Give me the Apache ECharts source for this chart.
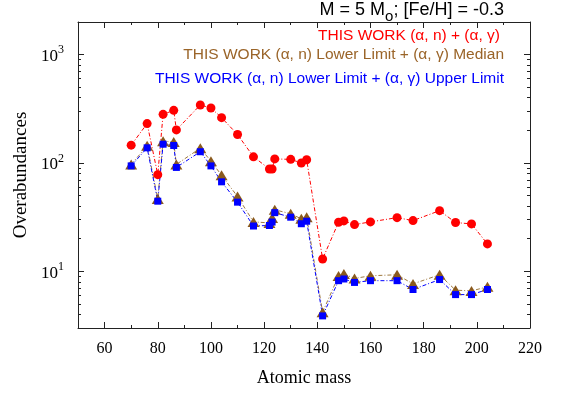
<!DOCTYPE html>
<html><head><meta charset="utf-8">
<script src="https://cdn.jsdelivr.net/npm/echarts@6/dist/echarts.min.js"></script>
<style>html,body{margin:0;padding:0;background:#fff}#c{width:561px;height:394px}</style>
</head><body><div id="c"></div>
<script>
const mass = [70,76,80,82,86,87,96,100,104,110,116,122,123,124,130,134,136,142,148,150,154,160,170,176,186,192,198,204];
const redVals = [146,231,78,281,306,202,343,322,262,183,114,88,88,109,108,100,107,13,28.4,29.2,27,28.6,31.3,29.4,36.3,28.2,27.4,17.9];
const brownVals = [97,144,46.6,159,156,97,137,104,77,49,28.6,28,31,37,34,30.5,31.6,4.2,9.07,9.46,8.6,9.1,9.3,7.66,9.3,6.7,6.6,7.2];
const blueVals = [94,138,44.4,149,145,91,127,94,67,43.5,26.2,26.5,28.5,34.8,31.6,27.5,29,3.88,8.2,8.5,7.9,8.2,8.2,6.8,8.4,6.1,6.1,6.8];
const xMajor = [60,80,100,120,140,160,180,200,220];
const xMinor = [50,70,90,110,130,150,170,190,210];
const yMajor = [10,100,1000];
const yMinor = [3,4,5,6,7,8,9,20,30,40,50,60,70,80,90,200,300,400,500,600,700,800,900,2000];
const seriesNames = ['THIS WORK (\u03b1, n) + (\u03b1, \u03b3)','THIS WORK (\u03b1, n) Lower Limit + (\u03b1, \u03b3) Median','THIS WORK (\u03b1, n) Lower Limit + (\u03b1, \u03b3) Upper Limit'];

const chart = echarts.init(document.getElementById('c'), null, {renderer:'canvas'});
const axisLineStyle = {show:true, lineStyle:{color:'#222', width:1}};
const serif = 'Liberation Serif';
function xa(pos, ticks, len, labels, line){
  const a = {type:'value', min:50, max:220, position:pos, splitLine:{show:false},
    axisLine: line ? axisLineStyle : {show:false},
    axisTick:{show:true, inside:true, length:len, customValues:ticks, lineStyle:{color:'#222',width:1}},
    axisLabel:{show:false}};
  if (labels){
    a.axisLabel = {show:true, customValues:ticks, fontFamily:serif, fontSize:16, color:'#000', margin:13};
    a.name = 'Atomic mass'; a.nameLocation='middle'; a.nameGap=41;
    a.nameTextStyle = {fontFamily:serif, fontSize:18, color:'#000'};
  }
  return a;
}
function ya(pos, ticks, len, labels, line){
  const a = {type:'log', logBase:10, min:3, max:2000, position:pos, splitLine:{show:false},
    axisLine: line ? axisLineStyle : {show:false},
    axisTick:{show:true, inside:true, length:len, customValues:ticks, lineStyle:{color:'#222',width:1}},
    axisLabel:{show:false}};
  if (labels){
    a.axisLabel = {show:true, customValues:ticks, margin:14, color:'#000',
      formatter: v => '{b|10}{s|' + Math.round(Math.log10(v)) + '}',
      rich:{b:{fontFamily:serif, fontSize:17, color:'#000', verticalAlign:'bottom'},
            s:{fontFamily:serif, fontSize:12, color:'#000', padding:[0,0,9,0], verticalAlign:'bottom'}}};
    a.name = 'Overabundances'; a.nameLocation='middle'; a.nameGap=45; a.nameRotate=90;
    a.nameTextStyle = {fontFamily:serif, fontSize:19, color:'#000'};
  }
  return a;
}
const sans = 'Liberation Sans';
chart.setOption({
  animation:false,
  backgroundColor:'#fff',
  grid:{left:78, right:31, top:22, bottom:66, containLabel:false},
  title:[
    {text:'{a|M = 5 M}{s|o}{a|; [Fe/H] = -0.3}', right:57, top:1, padding:0,
      textStyle:{fontWeight:'normal', rich:{a:{fontFamily:sans, fontSize:18, fontWeight:'normal', color:'#000', verticalAlign:'top'},
                       s:{fontFamily:sans, fontSize:15, fontWeight:'normal', color:'#000', padding:[8,0,0,0], verticalAlign:'top'}}}},
    {text:seriesNames[0], right:61, top:28, padding:0, textStyle:{fontFamily:sans, fontSize:15.5, fontWeight:'normal', color:'#ff0000'}},
    {text:seriesNames[1], right:57, top:47, padding:0, textStyle:{fontFamily:sans, fontSize:15.5, fontWeight:'normal', color:'#9a6428'}},
    {text:seriesNames[2], right:57, top:71, padding:0, textStyle:{fontFamily:sans, fontSize:15.5, fontWeight:'normal', color:'#0000ff'}}
  ],
  xAxis:[xa('bottom', xMajor, 6, true, true), xa('bottom', xMinor, 3, false, false),
         xa('top', xMajor, 6, false, true), xa('top', xMinor, 3, false, false)],
  yAxis:[ya('left', yMajor, 6, true, true), ya('left', yMinor, 3, false, false),
         ya('right', yMajor, 6, false, true), ya('right', yMinor, 3, false, false)],
  series:[
    {name:seriesNames[0], type:'line', xAxisIndex:0, yAxisIndex:0, data:mass.map((m,i)=>[m,redVals[i]]),
      symbol:'circle', symbolSize:9, itemStyle:{color:'#ff0000'},
      lineStyle:{color:'#ff0000', width:1, type:[4,2,1,2]}},
    {name:seriesNames[1], type:'line', xAxisIndex:0, yAxisIndex:0, data:mass.map((m,i)=>[m,brownVals[i]]),
      symbol:'triangle', symbolSize:[12,10], itemStyle:{color:'#8a5a1e'},
      lineStyle:{color:'#a07a40', width:1, type:[4,2,1,2]}},
    {name:seriesNames[2], type:'line', xAxisIndex:0, yAxisIndex:0, data:mass.map((m,i)=>[m,blueVals[i]]),
      symbol:'rect', symbolSize:7, itemStyle:{color:'#0000ff'},
      lineStyle:{color:'#0000ff', width:1, type:[4,2,1,2]}}
  ]
});
</script></body></html>
